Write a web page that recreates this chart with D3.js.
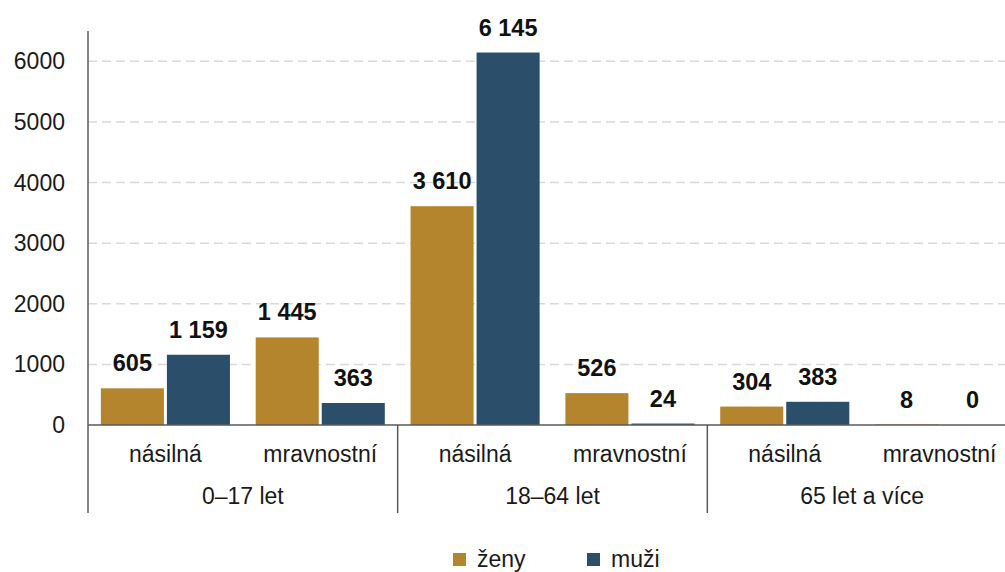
<!DOCTYPE html>
<html lang="cs">
<head>
<meta charset="UTF-8">
<title>Oběti trestných činů</title>
<script src="https://d3js.org/d3.v7.min.js"></script>
<style>
  body { margin: 0; background: #fff; }
  svg { display: block; font-family: "Liberation Sans", Arial, sans-serif; }
  .grid line { stroke: #d9d9d9; stroke-width: 1.5; stroke-dasharray: 9 5; }
  .tick-label { font-size: 23px; fill: #1a1a1a; }
  .val { font-size: 23.5px; font-weight: bold; fill: #111; }
  .cat { font-size: 23px; fill: #1a1a1a; }
</style>
</head>
<body>
<svg width="1005" height="572"></svg>
<script>
// data
const groups = ["0–17 let", "18–64 let", "65 let a více"];
const crimes = ["násilná", "mravnostní"];
const seriesNames = ["ženy", "muži"];
const zeny = [605, 1445, 3610, 526, 304, 8];
const muzi = [1159, 363, 6145, 24, 383, 0];
const yTicks = [0, 1000, 2000, 3000, 4000, 5000, 6000];
const colors = ["#b5852e", "#2b4f6b"];

const svg = d3.select("svg");
const plotLeft = 88, plotRight = 1017, plotTop = 31, zeroY = 425, axisBottom = 513;

const y = d3.scaleLinear().domain([0, 6500]).range([zeroY, plotTop]);
const x0 = d3.scaleBand().domain(groups).range([plotLeft, plotRight]).padding(0);
const x1 = d3.scaleBand().domain(crimes).range([0, x0.bandwidth()]).padding(0);
const x2 = d3.scaleBand().domain(seriesNames).range([0, x1.bandwidth()])
    .paddingInner(0.045).paddingOuter(0.195);
const color = d3.scaleOrdinal().domain(seriesNames).range(colors);

const fmt = d3.formatLocale({ decimal: ",", thousands: " ", grouping: [3], currency: ["", " Kč"] }).format(",d");

// gridlines
svg.append("g").attr("class", "grid")
  .selectAll("line").data(yTicks.filter(d => d > 0)).join("line")
  .attr("x1", plotLeft).attr("x2", plotRight)
  .attr("y1", d => y(d)).attr("y2", d => y(d));

// y tick labels
svg.append("g").selectAll("text").data(yTicks).join("text")
  .attr("class", "tick-label")
  .attr("x", 65).attr("y", d => y(d)).attr("dy", "0.35em")
  .attr("text-anchor", "end")
  .text(d => d);

// flatten data
const rows = [];
groups.forEach((g, gi) => {
  crimes.forEach((c, ci) => {
    const i = gi * crimes.length + ci;
    rows.push({ g, c, s: "ženy", v: zeny[i] });
    rows.push({ g, c, s: "muži", v: muzi[i] });
  });
});
const bx = d => x0(d.g) + x1(d.c) + x2(d.s);

// bars
svg.append("g").selectAll("rect").data(rows).join("rect")
  .attr("x", bx)
  .attr("y", d => y(d.v))
  .attr("width", x2.bandwidth())
  .attr("height", d => zeroY - y(d.v))
  .attr("fill", d => color(d.s));

// value labels
svg.append("g").selectAll("text").data(rows).join("text")
  .attr("class", "val")
  .attr("x", d => bx(d) + x2.bandwidth() / 2)
  .attr("y", d => y(d.v) - 17)
  .attr("text-anchor", "middle")
  .text(d => fmt(d.v));

// axes lines
const axisColor = "#5a5a5a";
svg.append("line").attr("x1", plotLeft).attr("x2", plotLeft).attr("y1", plotTop).attr("y2", axisBottom)
  .attr("stroke", axisColor).attr("stroke-width", 1.5);
svg.append("line").attr("x1", plotLeft).attr("x2", plotRight).attr("y1", zeroY).attr("y2", zeroY)
  .attr("stroke", axisColor).attr("stroke-width", 1.5);
svg.append("g").selectAll("line").data(groups.slice(1)).join("line")
  .attr("x1", d => x0(d)).attr("x2", d => x0(d))
  .attr("y1", zeroY).attr("y2", axisBottom)
  .attr("stroke", axisColor).attr("stroke-width", 1.5);

// category labels
const sub = [];
groups.forEach(g => crimes.forEach(c => sub.push({ g, c })));
svg.append("g").selectAll("text").data(sub).join("text")
  .attr("class", "cat")
  .attr("x", d => x0(d.g) + x1(d.c) + x1.bandwidth() / 2)
  .attr("y", 462)
  .attr("text-anchor", "middle")
  .text(d => d.c);
svg.append("g").selectAll("text").data(groups).join("text")
  .attr("class", "cat")
  .attr("x", d => x0(d) + x0.bandwidth() / 2)
  .attr("y", 504)
  .attr("text-anchor", "middle")
  .text(d => d);

// legend
const legendX = [453, 587];
const lg = svg.append("g").selectAll("g").data(seriesNames).join("g")
  .attr("transform", (d, i) => `translate(${legendX[i]},553)`);
lg.append("rect").attr("width", 13).attr("height", 13).attr("fill", d => color(d));
lg.append("text").attr("class", "cat").attr("x", 24).attr("y", 13.5).text(d => d);
</script>
</body>
</html>
